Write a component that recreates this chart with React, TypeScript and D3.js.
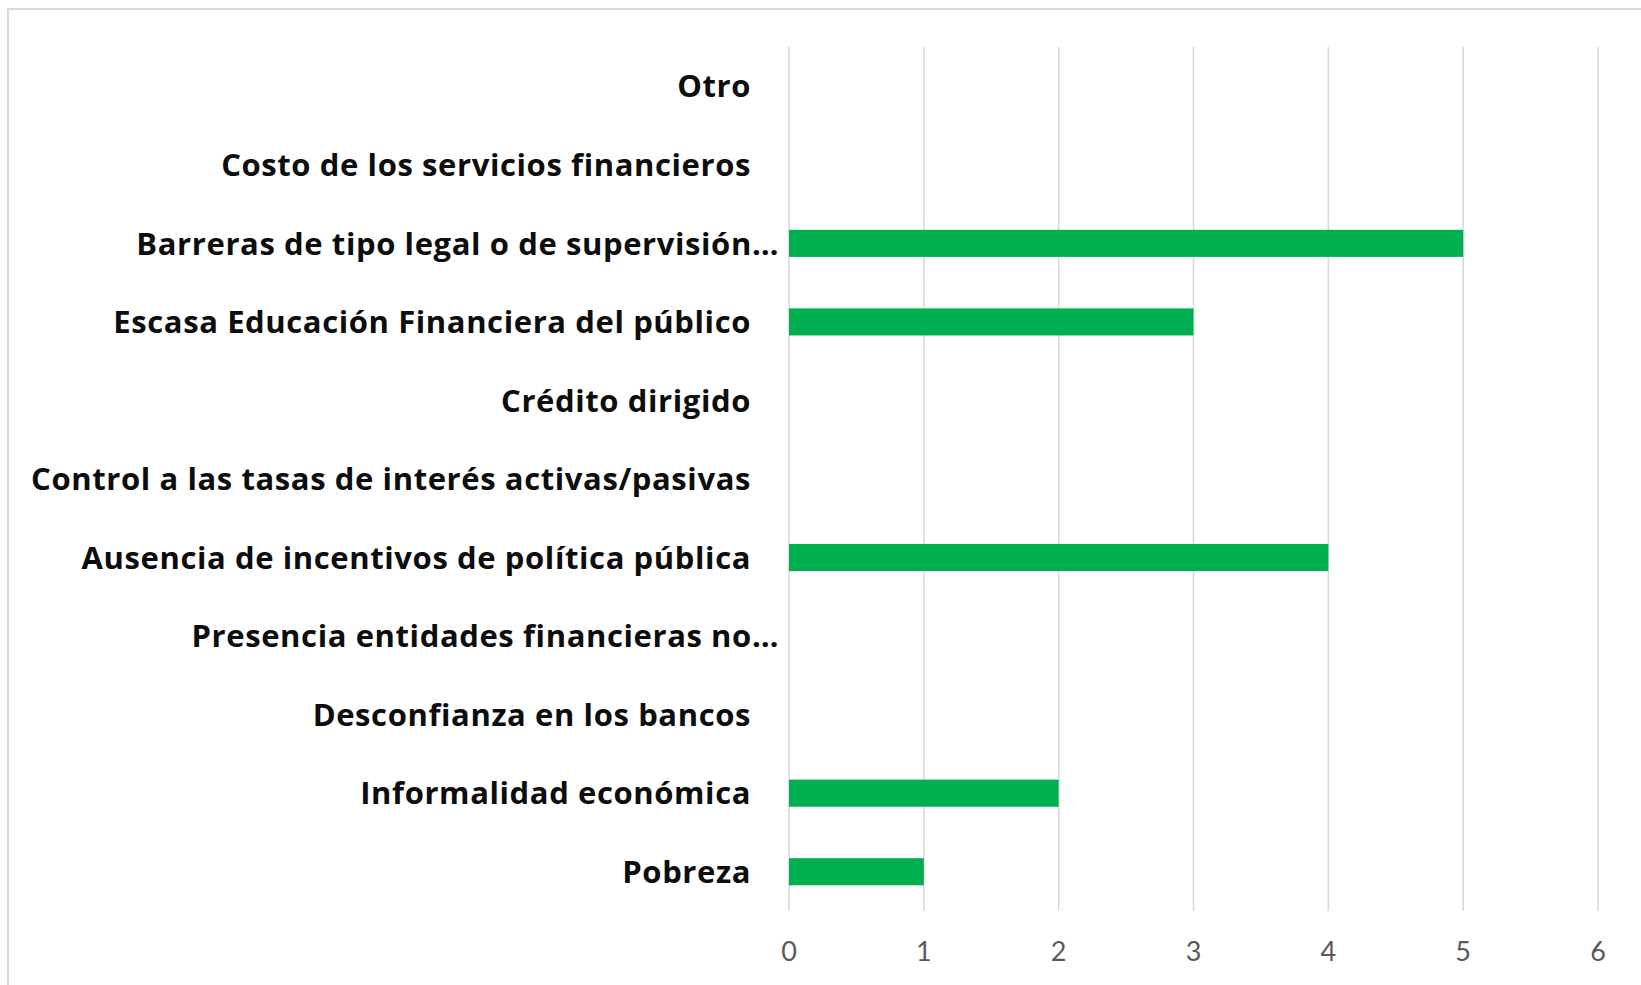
import React from "react";
import * as d3 from "d3";

const categories: string[] = [
  "Otro",
  "Costo de los servicios financieros",
  "Barreras de tipo legal o de supervisión…",
  "Escasa Educación Financiera del público",
  "Crédito dirigido",
  "Control a las tasas de interés activas/pasivas",
  "Ausencia de incentivos de política pública",
  "Presencia entidades financieras no…",
  "Desconfianza en los bancos",
  "Informalidad económica",
  "Pobreza",
];
const truncated: boolean[] = [false, false, true, false, false, false, false, true, false, false, false];
const values: number[] = [0, 0, 5, 3, 0, 0, 4, 0, 0, 2, 1];
const ticks: number[] = [0, 1, 2, 3, 4, 5, 6];

const W = 1641;
const H = 985;
const plot = { left: 789, right: 1598, top: 47, bottom: 911 };

export default function App() {
  const x = d3.scaleLinear().domain([0, 6]).range([plot.left, plot.right]);
  const y = d3.scaleBand<string>().domain(categories).range([plot.top, plot.bottom]).padding(0);
  const bw = y.bandwidth();
  const barH = bw * 0.345;

  return (
    <svg
      width={W}
      height={H}
      style={{ position: "absolute", left: 0, top: 0, display: "block", background: "#fff" }}
    >
      <rect x={8} y={9} width={W + 20} height={H + 20} fill="#fff" stroke="#d9d9d9" strokeWidth={2} />
      {ticks.map((t) => (
        <line key={"g" + t} x1={x(t)} x2={x(t)} y1={plot.top} y2={plot.bottom} stroke="#d9d9d9" strokeWidth={1.6} />
      ))}
      {categories.map((c, i) =>
        values[i] > 0 ? (
          <rect
            key={"b" + i}
            x={x(0)}
            y={(y(c) as number) + bw / 2 - barH / 2}
            width={x(values[i]) - x(0)}
            height={barH}
            fill="#00b050"
          />
        ) : null
      )}
      {categories.map((c, i) => (
        <text
          key={"l" + i}
          x={truncated[i] ? 779 : 751}
          y={(y(c) as number) + bw / 2}
          dy="0.36em"
          textAnchor="end"
          fontFamily="'Open Sans', sans-serif"
          fontWeight={700}
          fontSize={31}
          letterSpacing={0.6}
          fill="#0d0d0d"
        >
          {c}
        </text>
      ))}
      {ticks.map((t) => (
        <text
          key={"t" + t}
          x={x(t)}
          y={951}
          dy="0.36em"
          textAnchor="middle"
          fontFamily="Lato, 'Open Sans', sans-serif"
          fontSize={27}
          fill="#595959"
        >
          {t}
        </text>
      ))}
    </svg>
  );
}
